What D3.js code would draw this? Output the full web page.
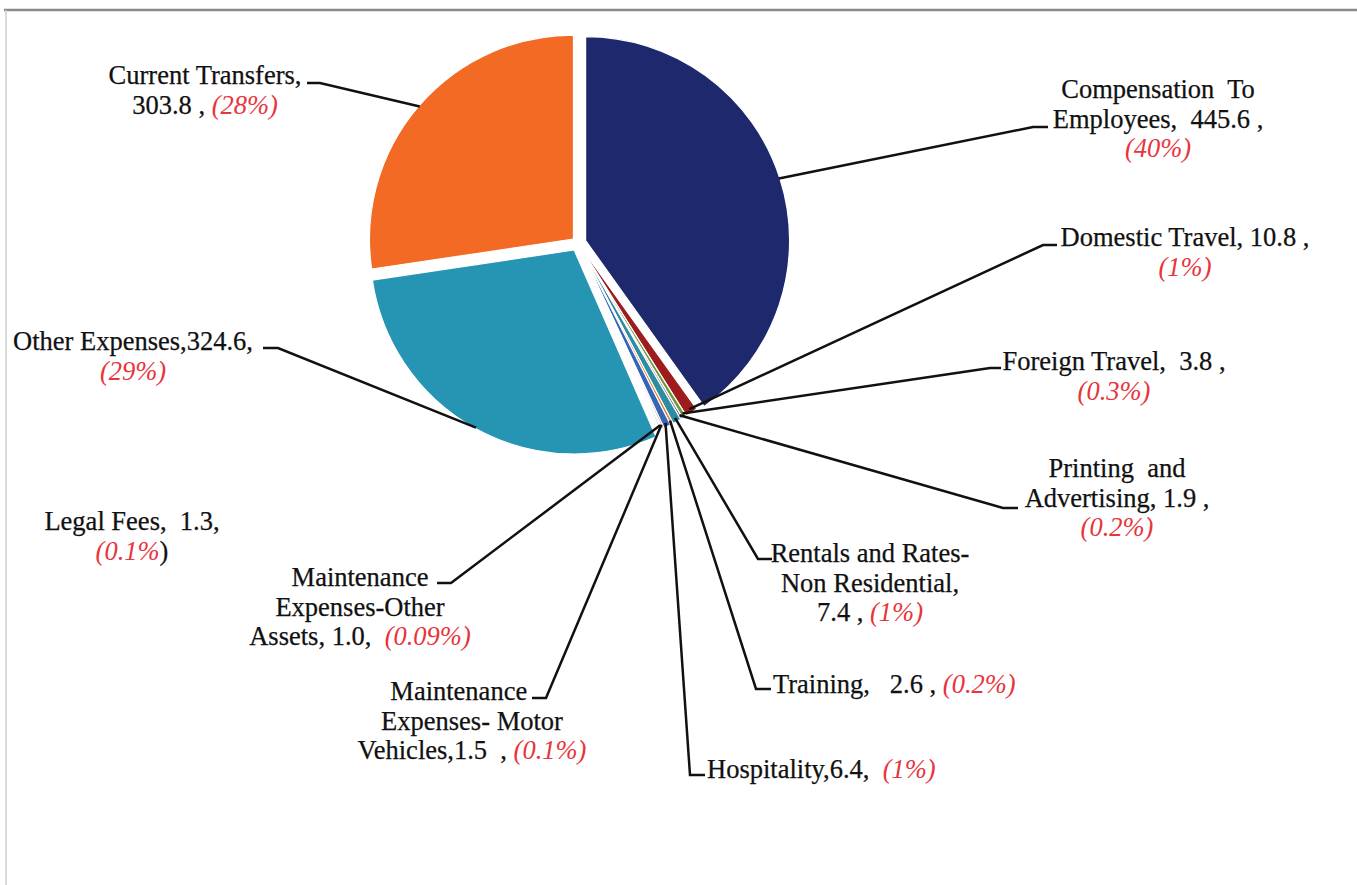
<!DOCTYPE html>
<head>
  <meta charset="utf-8">
  <script src="https://d3js.org/d3.v7.min.js"></script>
  <style>
    body { margin:0; background:#fff; }
    text { white-space: pre; }
  </style>
</head>
<body>
<script>
  // data, in slice order (clockwise from 12 o'clock)
  var categories = ['Compensation To Employees', 'Domestic Travel', 'Foreign Travel',
    'Printing and Advertising', 'Rentals and Rates-Non Residential', 'Training',
    'Hospitality', 'Maintenance Expenses- Motor Vehicles', 'Maintenance Expenses-Other Assets',
    'Legal Fees', 'Other Expenses', 'Current Transfers'];
  var values = [445.6, 10.8, 3.8, 1.9, 7.4, 2.6, 6.4, 1.5, 1.0, 1.3, 324.6, 303.8];
  var pctLabels = ['40%', '1%', '0.3%', '0.2%', '1%', '0.2%', '1%', '0.1%', '0.09%', '0.1%', '29%', '28%'];
  var colors = ['#1d296c', '#9e1b1e', '#6e9a3c', '#5d4a8a', '#2b8ca2', '#e8792c',
    '#3466b6', '#c8683e', '#d99a8a', '#8c6c9c', '#2595b3', '#f26a23'];

  // how each label is broken into lines ({v} value, {p} red pct, {q} red pct without closing paren)
  var labelLines = [
    ['Compensation  To', 'Employees,  {v} ,', '{p}'],
    ['Domestic Travel, {v} ,', '{p}'],
    ['Foreign Travel,  {v} ,', '{p}'],
    ['Printing  and', 'Advertising, {v} ,', '{p}'],
    ['Rentals and Rates-', 'Non Residential,', '{v} , {p}'],
    ['Training,   {v} , {p}'],
    ['Hospitality,{v},  {p}'],
    ['Maintenance    ', 'Expenses- Motor', 'Vehicles,{v}  , {p}'],
    ['Maintenance', 'Expenses-Other', 'Assets, {v},  {p}'],
    ['Legal Fees,  {v},', '{q})'],
    ['Other Expenses,{v},', '{p}'],
    ['Current Transfers,', '{v} , {p}']
  ];

  // label placement: x, first baseline, anchor, leader start & elbow
  var labelPos = [
    {x:1158, y:98,  a:'middle', lead:[[1048,127],[1033,127]]},
    {x:1185, y:246, a:'middle', lead:[[1057,245],[1043,245]]},
    {x:1114, y:370, a:'middle', lead:[[1001,368],[990,368]]},
    {x:1117, y:477, a:'middle', lead:[[1018,508],[1003,508]]},
    {x:870,  y:562, a:'middle', lead:[[772,559],[758,559]]},
    {x:773,  y:693, a:'start',  lead:[[771,689],[756,689]]},
    {x:707,  y:778, a:'start',  lead:[[705,775],[690,775]]},
    {x:472,  y:700, a:'middle', lead:[[532,698],[546,698]]},
    {x:360,  y:586, a:'middle', lead:[[437,583],[451,583]]},
    {x:132,  y:530, a:'middle', lead:null},
    {x:133,  y:350, a:'middle', lead:[[263,348],[278,348]]},
    {x:205,  y:84,  a:'middle', lead:[[307,83],[320,83]]}
  ];
  var explode = [8, 0, 0, 0, 0, 0, 0, 0, 0, 0, 8, 6];

  var width = 1357, height = 885;
  var cx = 578, cy = 243, radius = 204;
  var lineH = 29.5;

  var svg = d3.select('body').append('svg')
    .attr('width', width)
    .attr('height', height);

  // frame edges
  svg.append('line').attr('x1', 4).attr('x2', width).attr('y1', 10).attr('y2', 10)
    .style('stroke', '#8a8a8a').style('stroke-width', 2.5);
  svg.append('line').attr('x1', 6).attr('x2', 6).attr('y1', 10).attr('y2', height)
    .style('stroke', '#c8d0d0').style('stroke-width', 1.5);

  var pie = d3.pie().sort(null).value(d => d)(values);
  var arc = d3.arc().innerRadius(0).outerRadius(radius);

  function offset(d, i) {
    var m = (d.startAngle + d.endAngle) / 2;
    return [Math.sin(m) * explode[i], -Math.cos(m) * explode[i]];
  }

  var g = svg.append('g').attr('transform', 'translate(' + cx + ',' + cy + ')');

  g.selectAll('path')
    .data(pie)
    .enter()
    .append('path')
    .attr('d', arc)
    .attr('transform', (d, i) => 'translate(' + offset(d, i) + ')')
    .style('fill', (d, i) => colors[i])
    .style('stroke', '#fff')
    .style('stroke-width', 1.2);

  // leader lines
  var line = d3.line();
  pie.forEach(function(d, i) {
    var p = labelPos[i];
    if (!p.lead) return;
    var m = (d.startAngle + d.endAngle) / 2;
    var o = offset(d, i);
    var r = explode[i] ? radius - 1 : radius - 4;
    var end = [cx + o[0] + Math.sin(m) * r, cy + o[1] - Math.cos(m) * r];
    svg.append('path')
      .attr('d', line([p.lead[0], p.lead[1], end]))
      .style('fill', 'none')
      .style('stroke', '#111')
      .style('stroke-width', 2.5);
  });

  // labels
  var fmt = d3.format('.1f');
  labelLines.forEach(function(lines, i) {
    var p = labelPos[i];
    var t = svg.append('text')
      .attr('x', p.x).attr('y', p.y)
      .style('text-anchor', p.a)
      .style('font-family', '"Liberation Serif", "Times New Roman", serif')
      .style('font-size', '26.5px')
      .style('fill', '#111')
      .style('stroke', '#111')
      .style('stroke-width', 0.25);
    lines.forEach(function(ln, k) {
      var parts = ln.split(/(\{[vpq]\})/).filter(s => s.length);
      parts.forEach(function(s, j) {
        var ts = t.append('tspan');
        if (j === 0) ts.attr('x', p.x).attr('y', p.y + k * lineH);
        if (s === '{v}') ts.text(fmt(values[i]));
        else if (s === '{p}' || s === '{q}') {
          ts.text('(' + pctLabels[i] + (s === '{p}' ? ')' : ''))
            .style('fill', '#e8343c').style('stroke', 'none').style('font-style', 'italic');
        } else ts.text(s);
      });
    });
  });
</script>
</body>
